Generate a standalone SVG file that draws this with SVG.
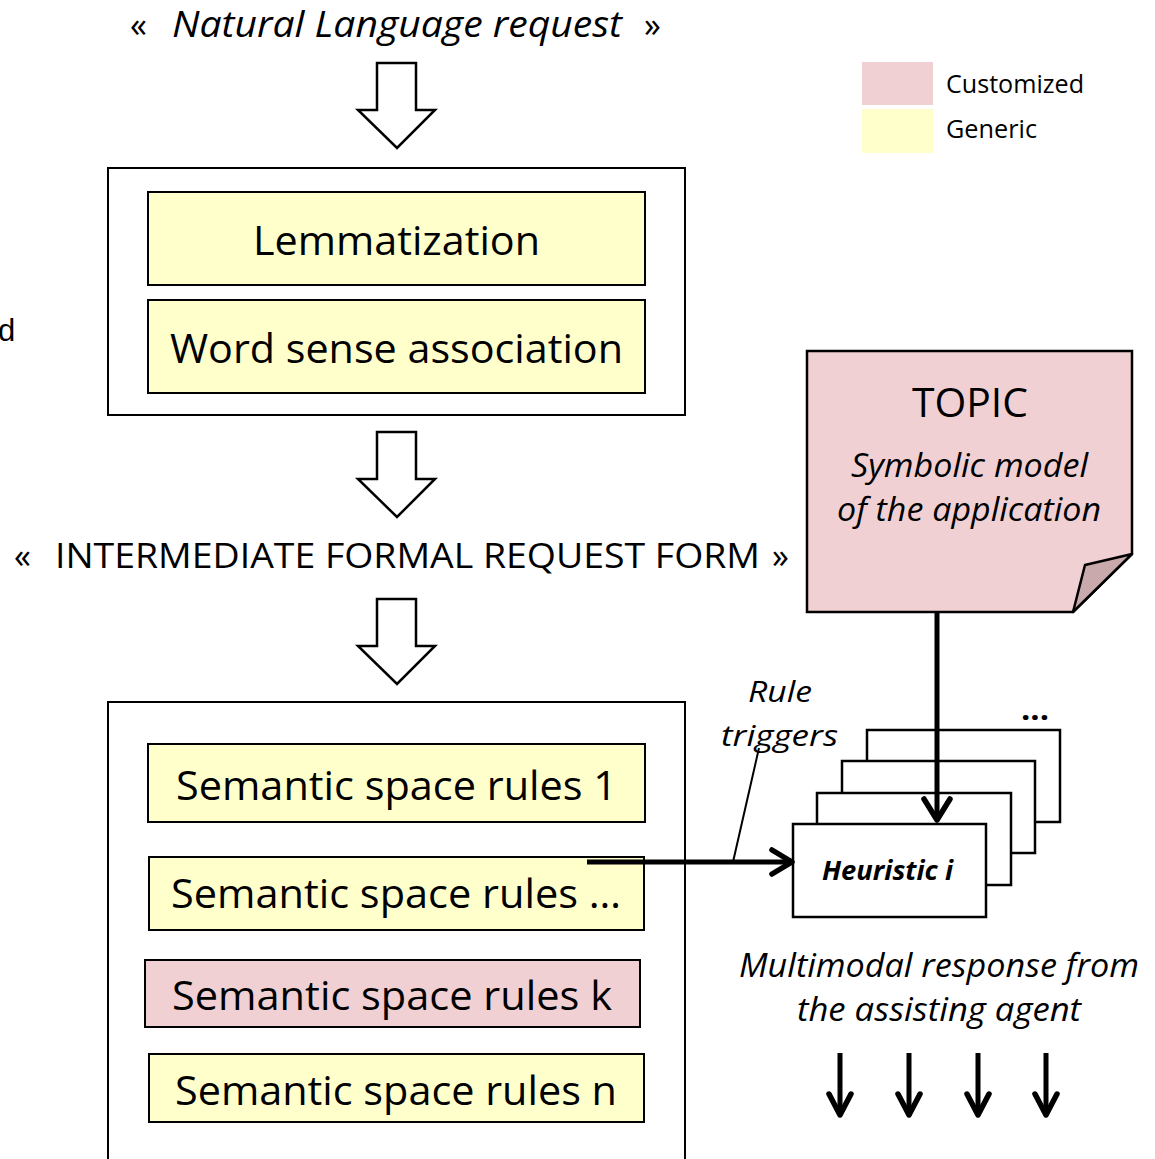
<svg xmlns="http://www.w3.org/2000/svg" width="1155" height="1159" viewBox="0 0 1155 1159">
  <style>
    text { font-family: "Open Sans", "Noto Sans", "Liberation Sans", sans-serif; fill: #000; }
    .it { font-style: italic; }
    .frame { fill: #fff; stroke: #000; stroke-width: 2; }
    .gen { fill: #FFFFCC; stroke: #000; stroke-width: 2; }
    .cus { fill: #F1D0D3; stroke: #000; stroke-width: 2; }
    .big { font-size: 40px; }
    .hollow { fill: #fff; stroke: #000; stroke-width: 2.5; stroke-linejoin: miter; }
    .heur { fill: #fff; stroke: #000; stroke-width: 2.5; }
    .thick { stroke: #000; stroke-width: 5; fill: none; }
    .head { stroke: #000; stroke-width: 5.5; fill: none; stroke-linecap: round; stroke-linejoin: round; }
  </style>
  <defs>
    <!-- hollow block arrow pointing down; origin at shaft top centre -->
    <path id="blockArrow" class="hollow" d="M-20,0 H19 V47 H38 L0,85 L-39,47 H-20 Z"/>
  </defs>

  <rect width="1155" height="1159" fill="#fff"/>

  <!-- partial letter at the left edge -->
  <text x="-2" y="341" style="font-family:'Liberation Sans',Arial,sans-serif;font-size:31px">d</text>

  <!-- input request -->
  <g id="input-request">
    <text x="130" y="37" font-size="34">«</text>
    <text x="172" y="37" class="it" font-size="36" textLength="450" lengthAdjust="spacingAndGlyphs">Natural Language request</text>
    <text x="644" y="37" font-size="34">»</text>
  </g>

  <!-- legend -->
  <g id="legend">
    <rect x="862" y="62" width="71" height="43" fill="#F1D0D3"/>
    <rect x="862" y="109" width="71" height="44" fill="#FFFFCC"/>
    <text x="946" y="93" font-size="25" textLength="138" lengthAdjust="spacingAndGlyphs">Customized</text>
    <text x="946" y="138" font-size="25" textLength="91" lengthAdjust="spacingAndGlyphs">Generic</text>
  </g>

  <!-- linguistic pre-processing -->
  <g id="preprocessing">
    <rect class="frame" x="108" y="168" width="577" height="247"/>
    <g id="lemmatization">
      <rect class="gen" x="148" y="192" width="497" height="93"/>
      <text x="253" y="255" class="big" textLength="287" lengthAdjust="spacingAndGlyphs">Lemmatization</text>
    </g>
    <g id="word-sense">
      <rect class="gen" x="148" y="300" width="497" height="93"/>
      <text x="170" y="363" class="big" textLength="453" lengthAdjust="spacingAndGlyphs">Word sense association</text>
    </g>
  </g>

  <!-- intermediate form -->
  <g id="intermediate-form">
    <text x="14" y="568" font-size="34">«</text>
    <text x="55" y="568" font-size="35" textLength="705" lengthAdjust="spacingAndGlyphs">INTERMEDIATE FORMAL REQUEST FORM</text>
    <text x="772" y="568" font-size="34">»</text>
  </g>

  <!-- semantic rule spaces -->
  <g id="semantic-rules">
    <rect class="frame" x="108" y="702" width="577" height="470"/>
    <g id="rules-1">
      <rect class="gen" x="148" y="744" width="497" height="78"/>
      <text x="176" y="800" class="big" textLength="441" lengthAdjust="spacingAndGlyphs">Semantic space rules 1</text>
    </g>
    <g id="rules-dots">
      <rect class="gen" x="149" y="857" width="495" height="73"/>
      <text x="171" y="908" class="big" textLength="450" lengthAdjust="spacingAndGlyphs">Semantic space rules …</text>
    </g>
    <g id="rules-k">
      <rect class="cus" x="145" y="960" width="495" height="67"/>
      <text x="172" y="1010" class="big" textLength="440" lengthAdjust="spacingAndGlyphs">Semantic space rules k</text>
    </g>
    <g id="rules-n">
      <rect class="gen" x="149" y="1054" width="495" height="68"/>
      <text x="175" y="1105" class="big" textLength="442" lengthAdjust="spacingAndGlyphs">Semantic space rules n</text>
    </g>
  </g>

  <!-- topic note with folded corner -->
  <g id="topic">
    <path d="M807,351 H1132 V554 L1073,612 H807 Z" fill="#F1D0D3" stroke="#000" stroke-width="2.5"/>
    <path d="M1132,554 L1085,565 L1073,612 Z" fill="#C9A9AB" stroke="#000" stroke-width="2.5" stroke-linejoin="round"/>
    <text x="912" y="417" font-size="40" textLength="116" lengthAdjust="spacingAndGlyphs">TOPIC</text>
    <text x="851" y="477" class="it" font-size="32" textLength="237" lengthAdjust="spacingAndGlyphs">Symbolic model</text>
    <text x="837" y="521" class="it" font-size="32" textLength="264" lengthAdjust="spacingAndGlyphs">of the application</text>
  </g>

  <!-- heuristics stack -->
  <g id="heuristics">
    <rect class="heur" x="867" y="730" width="193" height="92"/>
    <rect class="heur" x="842" y="761" width="193" height="92"/>
    <rect class="heur" x="817" y="793" width="194" height="92"/>
    <rect class="heur" x="793" y="824" width="193" height="93"/>
    <text x="1021" y="720" font-size="30" font-weight="bold" textLength="28" lengthAdjust="spacingAndGlyphs">...</text>
    <text x="822" y="880" font-size="26" font-weight="bold" font-style="italic" textLength="131" lengthAdjust="spacingAndGlyphs">Heuristic i</text>
  </g>

  <!-- response label -->
  <g id="response">
    <text x="739" y="977" class="it" font-size="32" textLength="400" lengthAdjust="spacingAndGlyphs">Multimodal response from</text>
    <text x="797" y="1021" class="it" font-size="32" textLength="284" lengthAdjust="spacingAndGlyphs">the assisting agent</text>
  </g>

  <!-- rule triggers label -->
  <g id="rule-triggers">
    <text x="748" y="702" class="it" font-size="30" textLength="64" lengthAdjust="spacingAndGlyphs">Rule</text>
    <text x="721" y="746" class="it" font-size="30" textLength="117" lengthAdjust="spacingAndGlyphs">triggers</text>
  </g>

  <!-- connectors -->
  <g id="connectors">
    <use href="#blockArrow" x="397" y="63"/>
    <use href="#blockArrow" x="397" y="432"/>
    <use href="#blockArrow" x="397" y="599"/>

    <!-- topic to heuristic -->
    <line class="thick" x1="937" y1="612" x2="937" y2="819"/>
    <polyline class="head" points="924,799 937,820 950,799"/>

    <!-- rules to heuristic -->
    <line class="thick" x1="587" y1="862" x2="790" y2="862"/>
    <polyline class="head" points="772,850 792,862 772,874"/>

    <!-- label leader -->
    <line x1="733" y1="862" x2="759" y2="748" stroke="#000" stroke-width="2"/>

    <!-- outputs -->
    <g>
      <line class="thick" x1="840" y1="1053" x2="840" y2="1114"/>
      <polyline class="head" points="829,1094 840,1115 851,1094"/>
      <line class="thick" x1="909" y1="1053" x2="909" y2="1114"/>
      <polyline class="head" points="898,1094 909,1115 920,1094"/>
      <line class="thick" x1="978" y1="1053" x2="978" y2="1114"/>
      <polyline class="head" points="967,1094 978,1115 989,1094"/>
      <line class="thick" x1="1046" y1="1053" x2="1046" y2="1114"/>
      <polyline class="head" points="1035,1094 1046,1115 1057,1094"/>
    </g>
  </g>
</svg>
